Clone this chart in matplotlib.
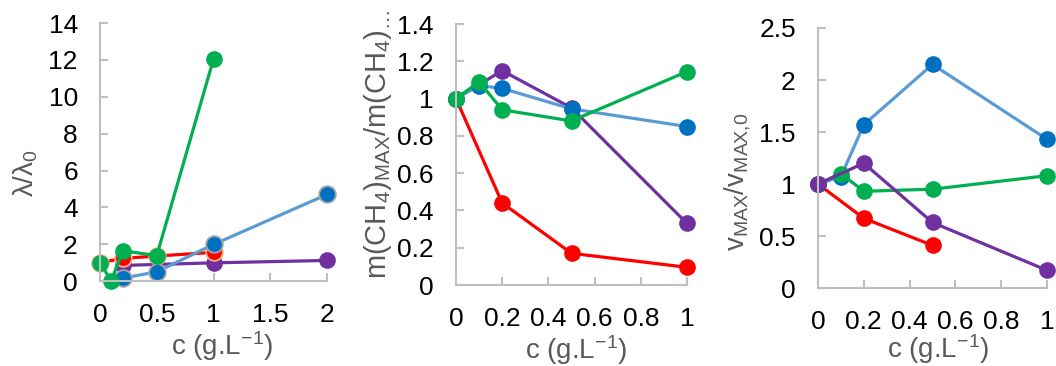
"""
Three-panel ratio plots vs concentration (lambda, m(CH4)max, vmax).
"""

import matplotlib
matplotlib.use("Agg")
import matplotlib.pyplot as plt

plt.rcParams["font.family"] = ["Liberation Sans", "DejaVu Sans"]
plt.rcParams["mathtext.fontset"] = "custom"
plt.rcParams["mathtext.rm"] = "Liberation Sans"
plt.rcParams["mathtext.it"] = "Liberation Sans"

RED, PURPLE, BLUE_L, BLUE_M, GREEN = "#FF0000", "#7030A0", "#5B9BD5", "#0070C0", "#00B050"
GRAY_AX = "#BFBFBF"
GRAY_TXT = "#595959"

# ── data ──────────────────────────────────────────────────────────────────────
# panel 1 : lambda / lambda0
p1_red_x = [0, 0.2, 0.5, 1]
p1_red_y = [1.0, 1.23, 1.36, 1.56]
p1_purple_x = [0.2, 1, 2]
p1_purple_y = [0.85, 0.99, 1.12]
p1_blue_x = [0.2, 0.5, 1, 2]
p1_blue_y = [0.16, 0.5, 1.99, 4.7]
p1_green_x = [0, 0.1, 0.2, 0.5, 1]
p1_green_y = [0.98, 0.02, 1.65, 1.38, 12.05]

# panel 2 : m(CH4)max / m(CH4)max,0
p2_red_x = [0, 0.2, 0.5, 1]
p2_red_y = [1.0, 0.44, 0.17, 0.095]
p2_purple_x = [0, 0.2, 0.5, 1]
p2_purple_y = [1.0, 1.15, 0.95, 0.33]
p2_blue_x = [0, 0.1, 0.2, 0.5, 1]
p2_blue_y = [1.0, 1.07, 1.055, 0.945, 0.85]
p2_green_x = [0, 0.1, 0.2, 0.5, 1]
p2_green_y = [1.0, 1.09, 0.94, 0.88, 1.145]

# panel 3 : vmax / vmax,0
p3_red_x = [0, 0.2, 0.5]
p3_red_y = [1.0, 0.67, 0.41]
p3_blue_x = [0, 0.1, 0.2, 0.5, 1]
p3_blue_y = [1.0, 1.07, 1.57, 2.15, 1.43]
p3_green_x = [0, 0.1, 0.2, 0.5, 1]
p3_green_y = [1.0, 1.1, 0.93, 0.95, 1.08]
p3_purple_x = [0, 0.2, 0.5, 1]
p3_purple_y = [1.0, 1.2, 0.63, 0.17]

fig = plt.figure(figsize=(10.56, 3.66), dpi=100)
fig.patch.set_facecolor("white")

LW = 2.3
MS = 12
TICK_FS = 19
LAB_FS = 20


def series(ax, x, y, lc, mc, mec=None):
    ax.plot(x, y, color=lc, lw=LW, marker="o", ms=MS, mfc=mc,
            mec=mec if mec else mc, mew=1.3 if mec else 0, clip_on=False)


def style(ax, xlim, ylim, xticks, yticks, xlabels, ylabels):
    ax.set_xlim(*xlim)
    ax.set_ylim(*ylim)
    ax.set_xticks(xticks)
    ax.set_xticklabels(xlabels)
    ax.set_yticks(yticks)
    ax.set_yticklabels(ylabels)
    for s in ("top", "right"):
        ax.spines[s].set_visible(False)
    for s in ("left", "bottom"):
        ax.spines[s].set_color(GRAY_AX)
        ax.spines[s].set_linewidth(1.5)
    ax.tick_params(axis="both", direction="in", length=6, width=1.5,
                   color=GRAY_AX, labelsize=TICK_FS, labelcolor="black")
    ax.tick_params(axis="x", pad=16)
    ax.tick_params(axis="y", pad=16)


def labels(ax, xl, xpos, yl=None, ypos=None):
    ax.set_xlabel(xl, fontsize=LAB_FS, color=GRAY_TXT, va="center")
    ax.xaxis.set_label_coords(*xpos)
    if yl:
        ax.set_ylabel(yl, fontsize=LAB_FS, color=GRAY_TXT, va="center")
        ax.yaxis.set_label_coords(*ypos)


XL = "c (g.L$^{-1}$)"

# ── panel 1 ───────────────────────────────────────────────────────────────────
ax1 = fig.add_axes([0.0947, 0.232, 0.215, 0.705])
series(ax1, p1_purple_x, p1_purple_y, PURPLE, PURPLE)
series(ax1, p1_red_x, p1_red_y, RED, RED, "#F4B183")
series(ax1, p1_blue_x, p1_blue_y, BLUE_L, BLUE_M, "#A6A6A6")
series(ax1, p1_green_x, p1_green_y, GREEN, GREEN)
style(ax1, (0, 2), (0, 14), [0, 0.5, 1, 1.5, 2], range(0, 15, 2),
      ["0", "0.5", "1", "1.5", "2"], [str(v) for v in range(0, 15, 2)])
labels(ax1, XL, (0.537, -0.252), "λ/λ$_{0}$", (-0.326, 0.42))

# ── panel 2 ───────────────────────────────────────────────────────────────────
ax2 = fig.add_axes([0.4318, 0.2213, 0.2188, 0.713])
series(ax2, p2_red_x, p2_red_y, RED, RED)
series(ax2, p2_purple_x, p2_purple_y, PURPLE, PURPLE)
series(ax2, p2_blue_x, p2_blue_y, BLUE_L, BLUE_M)
series(ax2, p2_green_x, p2_green_y, GREEN, GREEN)
xt = [0, 0.2, 0.4, 0.6, 0.8, 1]
style(ax2, (0, 1), (0, 1.4), xt, [0, 0.2, 0.4, 0.6, 0.8, 1, 1.2, 1.4],
      ["0", "0.2", "0.4", "0.6", "0.8", "1"],
      ["0", "0.2", "0.4", "0.6", "0.8", "1", "1.2", "1.4"])
labels(ax2, XL, (0.52, -0.25))
fig.text(378 / 1056, 1 - 279 / 366,
         "m(CH$_{4}$)$_{MAX}$/m(CH$_{4}$)$_{\\ldots}$",
         rotation=90, ha="center", va="bottom", fontsize=21, color=GRAY_TXT)

# ── panel 3 ───────────────────────────────────────────────────────────────────
ax3 = fig.add_axes([0.7746, 0.2131, 0.2169, 0.7104])
series(ax3, p3_red_x, p3_red_y, RED, RED)
series(ax3, p3_blue_x, p3_blue_y, BLUE_L, BLUE_M)
series(ax3, p3_green_x, p3_green_y, GREEN, GREEN)
series(ax3, p3_purple_x, p3_purple_y, PURPLE, PURPLE)
style(ax3, (0, 1), (0, 2.5), xt, [0, 0.5, 1, 1.5, 2, 2.5],
      ["0", "0.2", "0.4", "0.6", "0.8", "1"],
      ["0", "0.5", "1", "1.5", "2", "2.5"])
labels(ax3, XL, (0.524, -0.235), "v$_{MAX}$/v$_{MAX{,}0}$", (-0.35, 0.41))

fig.savefig("out.png", dpi=100, facecolor="white")
plt.close()
